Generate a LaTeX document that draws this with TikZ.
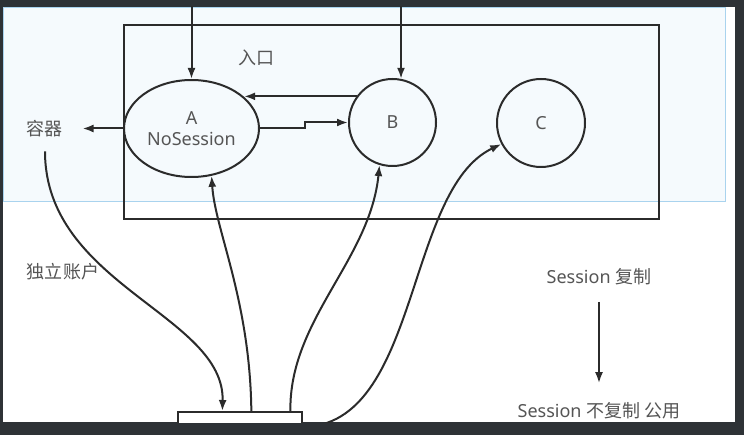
\documentclass[tikz,border=0pt]{standalone}
\usepackage{fontspec}
\setmainfont{Noto Sans}
\newfontfamily\cjk{Noto Sans CJK SC}
\usepackage{tikz}
\usetikzlibrary{calc,shapes.geometric,arrows.meta}

\definecolor{screen}{HTML}{2E3236}
\definecolor{selfill}{HTML}{F5FAFD}
\definecolor{seledge}{HTML}{A9D3EE}
\definecolor{ink}{HTML}{2B2B2B}
\definecolor{txt}{HTML}{555555}

\begin{document}
\begin{tikzpicture}[x=1pt,y=-1pt]
\tikzstyle{flow}=[-{Latex[length=11pt,width=8pt]},line width=2pt,draw=ink]
\tikzstyle{words}=[text=txt,font=\fontsize{18}{21}\selectfont]
\tikzstyle{outline}=[draw=ink,line width=2pt,inner sep=0pt]

\useasboundingbox (0,0) rectangle (744,435);
\fill [screen] (0,0) rectangle (744,435);

\begin{scope}
\clip (3,7) rectangle (735,422);
\fill [white] (3,7) rectangle (735,422);
\draw [seledge,fill=selfill,line width=1pt] (3,8) rectangle (725,202);

\node (frame) [outline,minimum width=535pt,minimum height=194pt] at (391.5,122) {};
\node (rukou) [words] at (256,58) {\cjk 入口};

\node (A) [outline,ellipse,minimum width=135pt,minimum height=97pt,align=center,words] at (191.5,128.5) {A\\NoSession};
\node (B) [outline,circle,minimum size=87pt,words] at (392.5,122.5) {B};
\node (C) [outline,circle,minimum size=88pt,words] at (541,123) {C};

\node (rongqi) [words] at (45,128.5) {\cjk 容器};
\node (duli) [words] at (63,272) {\cjk 独立账户};

\node (acct) [outline,fill=white,minimum width=124pt,minimum height=30pt,anchor=north west] at (177,411) {};
\coordinate (a1) at ($(acct.north west)!0.36!(acct.north east)$);
\coordinate (a2) at ($(acct.north west)!0.59!(acct.north east)$);
\coordinate (a3) at ($(acct.north west)!0.9!(acct.north east)$);

% entries from above
\coordinate (inA) at (191.5,3);
\coordinate (inB) at (401,3);
\draw [flow] (inA) -- (A.north);
\draw [flow] (inB) -- (inB |- B.79);

\draw [flow] (B.144) -- (B.144 -| A.31);
\draw [flow] (A.east) -- ++(45,0) |- (B.west);
\draw [flow] (A.west) -- ([xshift=16pt]rongqi.east);

\draw [flow] ([yshift=-11pt]rongqi.south) .. controls (45,285) and (225,315) .. (a1);
\draw [flow] (a2) .. controls (250,300) and (215,230) .. (A.-67);
\draw [flow] (a3) .. controls (289,320) and (370,260) .. (B.-107);
\draw [flow] (acct.east) .. controls (420,425) and (405,190) .. (C.-152);

\node (copy) [words] at (599,277) {Session {\cjk 复制}};
\node (nocopy) [words] at (599,411) {Session {\cjk 不复制 公用}};
\draw [flow,shorten <=13pt,shorten >=16pt] (copy) -- (nocopy);
%\draw [help lines] (0,0) grid (744,435);
\end{scope}

\end{tikzpicture}
\end{document}
